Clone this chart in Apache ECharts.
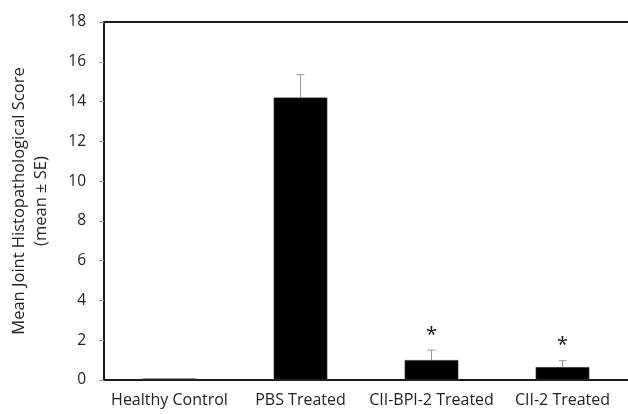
<!DOCTYPE html>
<html><head><meta charset="utf-8">
<script src="https://cdn.jsdelivr.net/npm/echarts@6/dist/echarts.min.js"></script>
<style>html,body{margin:0;padding:0;background:#fff}#c{width:628px;height:414px}</style>
</head><body><div id="c"></div>
<script>
const categories = ['Healthy Control', 'PBS Treated', 'CII-BPI-2 Treated', 'CII-2 Treated'];
const means = [0.08, 14.2, 1.0, 0.65];
const errors = [0, 1.15, 0.5, 0.32];
const significant = ['', '', '*', '*'];
const yTicks = [0, 2, 4, 6, 8, 10, 12, 14, 16, 18];

const font = 'Open Sans';
const chart = echarts.init(document.getElementById('c'));
chart.setOption({
  animation: false,
  grid: { left: 100, width: 531, top: 22, height: 358, containLabel: false },
  xAxis: [{
    type: 'category', data: categories,
    axisLine: { lineStyle: { color: '#1a1a1a', width: 2 } },
    axisTick: { show: false },
    axisLabel: { color: '#222', fontSize: 16, fontFamily: font, margin: 12, interval: 0 }
  }, {
    type: 'category', data: categories, position: 'top',
    axisLine: { lineStyle: { color: '#1a1a1a', width: 2 } },
    axisTick: { show: false }, axisLabel: { show: false }
  }],
  yAxis: {
    type: 'value', min: 0, max: 18, interval: 2,
    name: 'Mean Joint Histopathological Score\n(mean ± SE)',
    nameLocation: 'middle', nameGap: 52,
    nameTextStyle: { color: '#222', fontSize: 16.5, fontFamily: font, lineHeight: 22 },
    axisLine: { show: true, lineStyle: { color: '#1a1a1a', width: 2 } },
    axisTick: { show: true, length: 5, lineStyle: { color: '#999', width: 1 } },
    axisLabel: { color: '#222', fontSize: 15.5, fontFamily: font, margin: 18,
      formatter: v => yTicks.includes(v) ? String(v) : '' },
    splitLine: { show: false }
  },
  series: [{
    type: 'bar', data: means, barWidth: '41%',
    itemStyle: { color: '#000', borderColor: '#555', borderWidth: 0.5 }
  }, {
    type: 'custom',
    data: means.map((m, i) => [i, m, m + errors[i], significant[i]]),
    renderItem: (params, api) => {
      const i = api.value(0);
      const lo = api.coord([i, api.value(1)]);
      const hi = api.coord([i, api.value(2)]);
      const children = [];
      if (errors[i] > 0) {
        children.push({ type: 'line', shape: { x1: lo[0], y1: lo[1], x2: hi[0], y2: hi[1] }, style: { stroke: '#999', lineWidth: 1 } });
        children.push({ type: 'line', shape: { x1: hi[0] - 4, y1: hi[1], x2: hi[0] + 4, y2: hi[1] }, style: { stroke: '#999', lineWidth: 1 } });
      }
      if (significant[i]) {
        children.push({ type: 'text', style: { text: significant[i], x: hi[0], y: hi[1] - 5, align: 'center', verticalAlign: 'bottom', fontSize: 20, fontFamily: font, fill: '#111' } });
      }
      return { type: 'group', children };
    },
    z: 5
  }]
});
</script></body></html>
